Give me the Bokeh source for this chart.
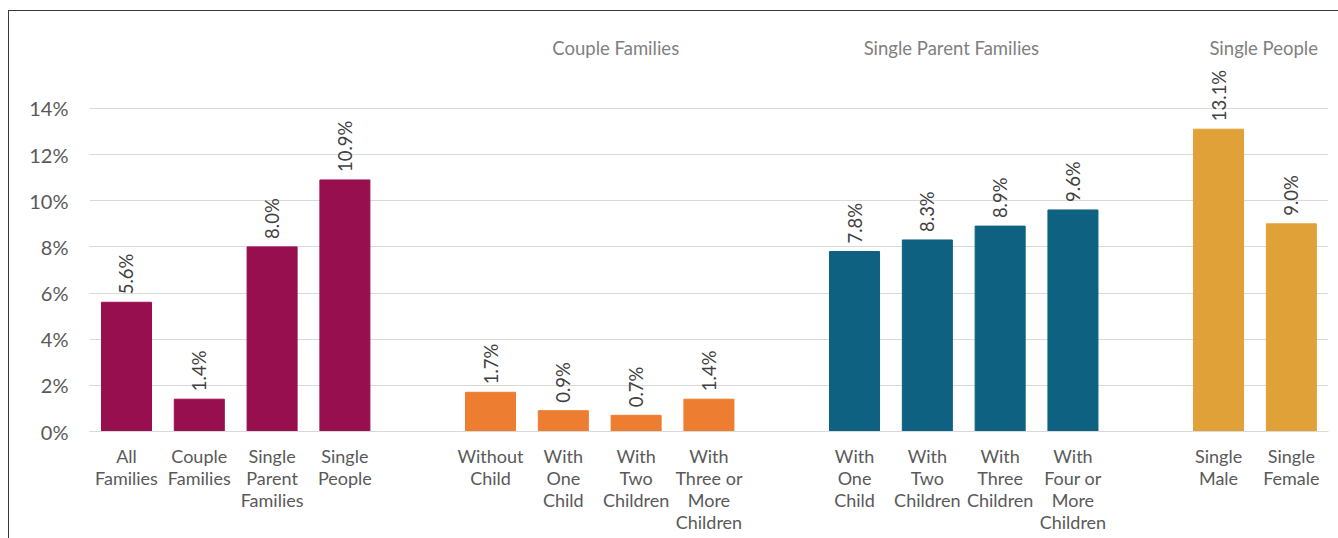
from math import pi
from bokeh.plotting import figure
from bokeh.models import ColumnDataSource, FixedTicker, PrintfTickFormatter, Range1d
from bokeh.core.properties import value
from bokeh.embed import file_html
from bokeh.resources import INLINE

# ---- data ----
overall_cats = ["All\nFamilies", "Couple\nFamilies", "Single\nParent\nFamilies", "Single\nPeople"]
overall_vals = [5.6, 1.4, 8.0, 10.9]
couple_cats = ["Without\nChild", "With\nOne\nChild", "With\nTwo\nChildren", "With\nThree or\nMore\nChildren"]
couple_vals = [1.7, 0.9, 0.7, 1.4]
spf_cats = ["With\nOne\nChild", "With\nTwo\nChildren", "With\nThree\nChildren", "With\nFour or\nMore\nChildren"]
spf_vals = [7.8, 8.3, 8.9, 9.6]
sp_cats = ["Single\nMale", "Single\nFemale"]
sp_vals = [13.1, 9.0]
group_headers = ["", "Couple Families", "Single Parent Families", "Single People"]
y_ticks = [0, 2, 4, 6, 8, 10, 12, 14]

# ---- styles ----
group_colors = ["#980F50", "#ED7D31", "#0E6180", "#E1A139"]
header_shift = [0.0, 0.22, -0.17, 0.12]
FONT = "Lato"

groups = [(overall_cats, overall_vals), (couple_cats, couple_vals),
          (spf_cats, spf_vals), (sp_cats, sp_vals)]

xs, vals, cols, labels, texts = [], [], [], [], []
hx, ht = [], []
slot = 0
for gi, (cats, vs) in enumerate(groups):
    start = slot
    for c, v in zip(cats, vs):
        xs.append(slot)
        vals.append(v)
        cols.append(group_colors[gi])
        labels.append(c)
        texts.append(f"{v:.1f}%")
        slot += 1
    if group_headers[gi]:
        hx.append((start + slot - 1) / 2 + header_shift[gi])
        ht.append(group_headers[gi])
    slot += 1  # gap between groups

src = ColumnDataSource(dict(x=xs, top=vals, color=cols, text=texts))

W, H = 1338, 538
p = figure(width=W, height=H, output_backend="svg", toolbar_location=None,
           x_range=Range1d(-0.508, 16.51),
           y_range=Range1d(0, 17.81),
           min_border_left=89, min_border_right=10, min_border_top=20,
           min_border_bottom=107)
p.border_fill_color = None
p.background_fill_color = None
p.outline_line_color = None
p.styles = {"box-shadow": "inset 8px 10px 0 #ffffff, inset 9px 11px 0 #3a3a3a"}

p.vbar(x="x", top="top", bottom=0, width=0.687, color="color", source=src)

p.text(x="x", y="top", text="text", source=src, angle=pi / 2,
       text_align="left", text_baseline="middle", y_offset=-8,
       text_font=value(FONT), text_font_size="18.5px", text_color="#404040")

p.text(x=hx, y=[16.64] * len(hx), text=ht, text_align="center",
       text_baseline="middle", text_font=value(FONT), text_font_size="18.5px",
       text_color="#7F7F7F")

# axes
p.xaxis.ticker = FixedTicker(ticks=xs)
p.xaxis.major_label_overrides = {x: l for x, l in zip(xs, labels)}
p.xaxis.major_tick_line_color = None
p.xaxis.minor_tick_line_color = None
p.xaxis.axis_line_color = "#D9D9D9"
p.xaxis.major_label_text_font = FONT
p.xaxis.major_label_text_font_size = "18px"
p.xaxis.major_label_text_line_height = 1.0
p.xaxis.major_label_text_color = "#595959"
p.xaxis.major_label_standoff = 7

p.yaxis.ticker = FixedTicker(ticks=y_ticks)
p.yaxis.formatter = PrintfTickFormatter(format="%d%%")
p.yaxis.major_tick_line_color = None
p.yaxis.minor_tick_line_color = None
p.yaxis.axis_line_color = None
p.yaxis.major_label_text_font = FONT
p.yaxis.major_label_text_font_size = "20px"
p.yaxis.major_label_text_color = "#595959"
p.yaxis.major_label_standoff = 15

p.xgrid.grid_line_color = None
p.ygrid.grid_line_color = "#D9D9D9"
p.ygrid.grid_line_width = 1

open("out.html", "w").write(file_html(p, INLINE))
